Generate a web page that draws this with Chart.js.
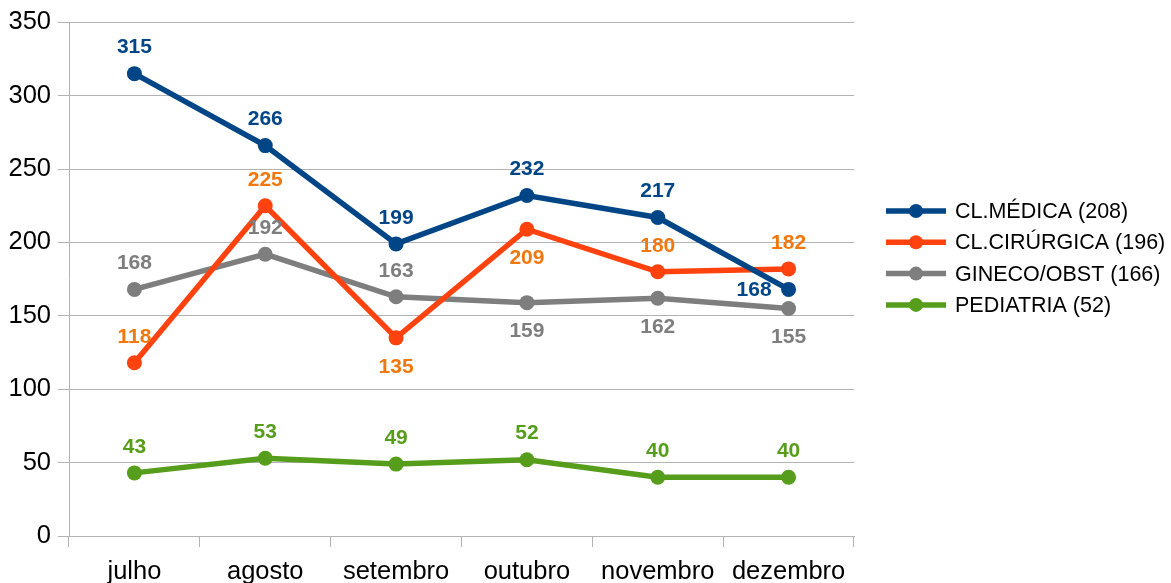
<!DOCTYPE html>
<html lang="pt">
<head>
    <meta charset="UTF-8">
    <title>Internações por clínica</title>
    <script src="https://cdn.jsdelivr.net/npm/chart.js"></script>
    <style>
        html, body { margin: 0; padding: 0; background: #fff; }
        #wrap { width: 1171px; height: 583px; }
    </style>
</head>
<body>
    <div id="wrap"><canvas id="grafico"></canvas></div>

    <script>
        const meses = ['julho', 'agosto', 'setembro', 'outubro', 'novembro', 'dezembro'];

        const medica = [315, 266, 199, 232, 217, 168];
        const cirurgica = [118, 225, 135, 209, 180, 182];
        const gineco = [168, 192, 163, 159, 162, 155];
        const pediatria = [43, 53, 49, 52, 40, 40];

        const nomes = ['CL.MÉDICA (208)', 'CL.CIRÚRGICA (196)', 'GINECO/OBST (166)', 'PEDIATRIA (52)'];
        const cores = ['#004586', '#ff420e', '#7e7e7e', '#579d1c'];
        const coresRotulo = ['#004586', '#f0780f', '#7e7e7e', '#579d1c'];

        // onde fica o rótulo de cada ponto: a = acima, b = abaixo, e = à esquerda
        const posRotulo = [
            ['a', 'a', 'a', 'a', 'a', 'e'],
            ['a', 'a', 'b', 'b', 'a', 'a'],
            ['a', 'a', 'a', 'b', 'b', 'b'],
            ['a', 'a', 'a', 'a', 'a', 'a']
        ];

        const fonte = 'Liberation Sans, Arial, sans-serif';

        const rotulos = {
            id: 'rotulos',
            afterDatasetsDraw(chart) {
                const ctx = chart.ctx;
                ctx.save();
                ctx.font = 'bold 21px ' + fonte;
                ctx.textBaseline = 'middle';
                chart.data.datasets.forEach((ds, i) => {
                    chart.getDatasetMeta(i).data.forEach((pt, j) => {
                        const p = posRotulo[i][j];
                        ctx.fillStyle = coresRotulo[i];
                        if (p === 'e') {
                            ctx.textAlign = 'right';
                            ctx.fillText(ds.data[j], pt.x - 17, pt.y + 1);
                        } else {
                            ctx.textAlign = 'center';
                            ctx.fillText(ds.data[j], pt.x, pt.y + (p === 'a' ? -26 : 29));
                        }
                    });
                });
                ctx.restore();
            }
        };

        const legenda = {
            id: 'legenda',
            afterDraw(chart) {
                const ctx = chart.ctx;
                ctx.save();
                ctx.font = '21.5px ' + fonte;
                ctx.textBaseline = 'middle';
                ctx.textAlign = 'left';
                nomes.forEach((n, i) => {
                    const y = 211 + i * 31.3;
                    ctx.strokeStyle = cores[i];
                    ctx.lineWidth = 5.5;
                    ctx.beginPath();
                    ctx.moveTo(886, y);
                    ctx.lineTo(946, y);
                    ctx.stroke();
                    ctx.fillStyle = cores[i];
                    ctx.beginPath();
                    ctx.arc(916, y, 7, 0, Math.PI * 2);
                    ctx.fill();
                    ctx.fillStyle = '#000';
                    ctx.fillText(n, 955, y + 1);
                });
                ctx.restore();
            }
        };

        const series = [medica, cirurgica, gineco, pediatria];

        new Chart(document.getElementById('grafico'), {
            type: 'line',
            data: {
                labels: meses,
                datasets: series.map((s, i) => ({
                    label: nomes[i],
                    data: s,
                    borderColor: cores[i],
                    backgroundColor: cores[i],
                    borderWidth: 5.5,
                    pointRadius: 7.5,
                    pointHoverRadius: 7.5,
                    pointBorderWidth: 0,
                    tension: 0
                }))
            },
            options: {
                responsive: true,
                maintainAspectRatio: false,
                animation: false,
                layout: { padding: { top: 22, right: 317, left: 0, bottom: 0 } },
                plugins: {
                    legend: { display: false },
                    tooltip: { enabled: false }
                },
                scales: {
                    x: {
                        offset: true,
                        grid: {
                            offset: true,
                            drawOnChartArea: true,
                            color: c => (c.index === 6 ? '#b3b3b3' : 'rgba(0,0,0,0)'),
                            tickColor: '#b3b3b3',
                            tickLength: 11
                        },
                        border: { color: '#b3b3b3' },
                        ticks: { color: '#000', font: { family: fonte, size: 25.5 }, padding: 10, maxRotation: 0 },
                        afterFit: s => { s.height = 47; }
                    },
                    y: {
                        min: 0,
                        max: 350,
                        ticks: { stepSize: 50, color: '#000', font: { family: fonte, size: 25.5 }, padding: 7 },
                        grid: { color: '#b3b3b3', tickColor: '#b3b3b3', tickLength: 11 },
                        border: { color: '#b3b3b3' },
                        afterFit: s => { s.width = 69; }
                    }
                }
            },
            plugins: [rotulos, legenda]
        });
    </script>
</body>
</html>
